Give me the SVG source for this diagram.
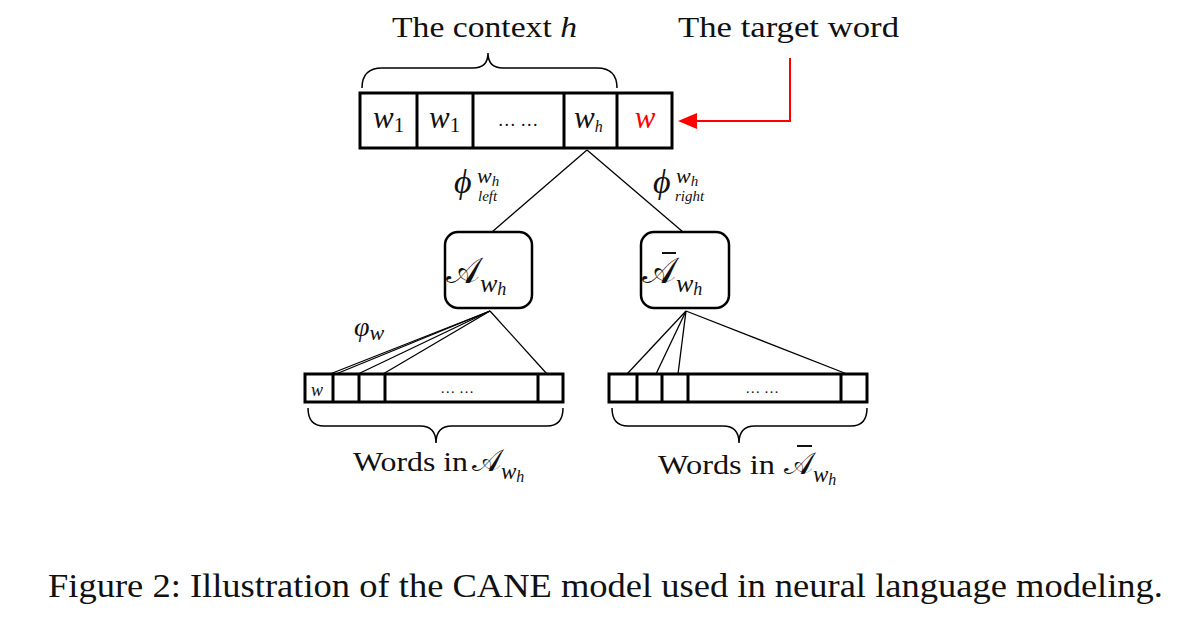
<svg xmlns="http://www.w3.org/2000/svg" width="1177" height="617" viewBox="0 0 1177 617">
<style>
.t{font-family:"Liberation Serif","DejaVu Serif",serif;fill:#111}
.i{font-family:"Liberation Serif","DejaVu Serif",serif;font-style:italic;fill:#111}
.m{font-family:"DejaVu Serif","Liberation Serif",serif;fill:#111}
.box{fill:#fff;stroke:#000;stroke-width:3}
.div{stroke:#000;stroke-width:3}
.ln{stroke:#000;stroke-width:1.3;fill:none}
.br{stroke:#000;stroke-width:1.5;fill:none}
</style>
<rect width="1177" height="617" fill="#fff"/>
<g id="labels-top">
<text class="t" x="392" y="37" font-size="30" textLength="185" lengthAdjust="spacingAndGlyphs">The context <tspan class="i">h</tspan></text>
<text class="t" x="678" y="37" font-size="30" textLength="221" lengthAdjust="spacingAndGlyphs">The target word</text>
<path class="br" d="M362,88 Q362,68 382,68 L473,68 Q488,68 488,53 Q488,68 503,68 L597,68 Q617,68 617,88"/>
</g>
<g id="context-bar">
<rect class="box" x="360" y="93" width="312" height="55"/>
<line class="div" x1="417" y1="93" x2="417" y2="148"/>
<line class="div" x1="473" y1="93" x2="473" y2="148"/>
<line class="div" x1="564" y1="93" x2="564" y2="148"/>
<line class="div" x1="617" y1="93" x2="617" y2="148"/>
<text class="i" x="373" y="128" font-size="31">w<tspan class="t" font-style="normal" font-size="21" dy="4">1</tspan></text>
<text class="i" x="429" y="128" font-size="31">w<tspan class="t" font-style="normal" font-size="21" dy="4">1</tspan></text>
<text class="t" x="518" y="126" font-size="18" text-anchor="middle">… …</text>
<text class="i" x="574" y="128" font-size="31">w<tspan font-size="16" dy="4">h</tspan></text>
<text class="i" x="645" y="128" font-size="31" style="fill:#ff0000" text-anchor="middle">w</text>
</g>
<g id="target-arrow">
<polyline points="790,58 790,121 696,121" fill="none" stroke="#ff0000" stroke-width="2"/>
<polygon points="678,121 697,113 697,129" fill="#ff0000"/>
</g>
<g id="connectors">
<line class="ln" x1="587" y1="150" x2="492" y2="232"/>
<line class="ln" x1="587" y1="150" x2="683" y2="232"/>
<line class="ln" x1="490" y1="311" x2="330" y2="374"/>
<line class="ln" x1="490" y1="311" x2="336" y2="374"/>
<line class="ln" x1="490" y1="311" x2="358" y2="374"/>
<line class="ln" x1="490" y1="311" x2="383" y2="374"/>
<line class="ln" x1="490" y1="311" x2="547" y2="374"/>
<line class="ln" x1="686" y1="311" x2="627" y2="374"/>
<line class="ln" x1="686" y1="311" x2="656" y2="374"/>
<line class="ln" x1="686" y1="311" x2="678" y2="374"/>
<line class="ln" x1="686" y1="311" x2="847" y2="374"/>
<text class="i" x="454" y="193" font-size="34">ϕ</text>
<text class="i" x="477" y="183" font-size="22">w<tspan font-size="15" dy="3">h</tspan></text>
<text class="i" x="478" y="201" font-size="15">left</text>
<text class="i" x="653" y="193" font-size="34">ϕ</text>
<text class="i" x="676" y="183" font-size="22">w<tspan font-size="15" dy="3">h</tspan></text>
<text class="i" x="675" y="201" font-size="15">right</text>
<text class="i" x="354" y="336" font-size="28">φ<tspan font-size="22" dy="4">w</tspan></text>
</g>
<g id="node-A">
<rect x="445" y="232" width="87" height="76" rx="13" fill="#fff" stroke="#000" stroke-width="2.5"/>
<text class="m" x="446" y="283" font-size="36">𝒜<tspan class="i" font-size="26" dy="9">w</tspan><tspan class="i" font-size="18" dy="3">h</tspan></text>
</g>
<g id="node-Abar">
<rect x="641" y="232" width="88" height="76" rx="13" fill="#fff" stroke="#000" stroke-width="2.5"/>
<line x1="662" y1="253" x2="676" y2="253" stroke="#111" stroke-width="2"/>
<text class="m" x="642" y="283" font-size="36">𝒜<tspan class="i" font-size="26" dy="9">w</tspan><tspan class="i" font-size="18" dy="3">h</tspan></text>
</g>
<g id="words-A">
<rect class="box" x="305" y="374" width="258" height="28"/>
<line class="div" x1="333" y1="374" x2="333" y2="402"/>
<line class="div" x1="359" y1="374" x2="359" y2="402"/>
<line class="div" x1="385" y1="374" x2="385" y2="402"/>
<line class="div" x1="538" y1="374" x2="538" y2="402"/>
<text class="i" x="311" y="396" font-size="18">w</text>
<text class="t" x="457" y="393" font-size="15" text-anchor="middle">… …</text>
<path class="br" d="M308,408 Q308,426 324,426 L420,426 Q436,426 436,443 Q436,426 452,426 L547,426 Q563,426 563,408"/>
<text class="t" x="353" y="471" font-size="28" textLength="115" lengthAdjust="spacingAndGlyphs">Words in</text>
<text class="m" x="472" y="471" font-size="31">𝒜<tspan class="i" font-size="23" dy="8">w</tspan><tspan class="i" font-size="16" dy="3">h</tspan></text>
</g>
<g id="words-Abar">
<rect class="box" x="609" y="374" width="258" height="28"/>
<line class="div" x1="637" y1="374" x2="637" y2="402"/>
<line class="div" x1="662" y1="374" x2="662" y2="402"/>
<line class="div" x1="688" y1="374" x2="688" y2="402"/>
<line class="div" x1="841" y1="374" x2="841" y2="402"/>
<text class="t" x="762" y="393" font-size="15" text-anchor="middle">… …</text>
<path class="br" d="M612,408 Q612,426 628,426 L723,426 Q739,426 739,443 Q739,426 755,426 L851,426 Q867,426 867,408"/>
<text class="t" x="658" y="474" font-size="28" textLength="117" lengthAdjust="spacingAndGlyphs">Words in</text>
<line x1="797" y1="446" x2="812" y2="446" stroke="#111" stroke-width="2"/>
<text class="m" x="784" y="474" font-size="31">𝒜<tspan class="i" font-size="23" dy="8">w</tspan><tspan class="i" font-size="16" dy="3">h</tspan></text>
</g>
<g id="caption">
<text class="t" x="48" y="597" font-size="33" textLength="1115" lengthAdjust="spacingAndGlyphs">Figure 2: Illustration of the CANE model used in neural language modeling.</text>
</g>
</svg>
